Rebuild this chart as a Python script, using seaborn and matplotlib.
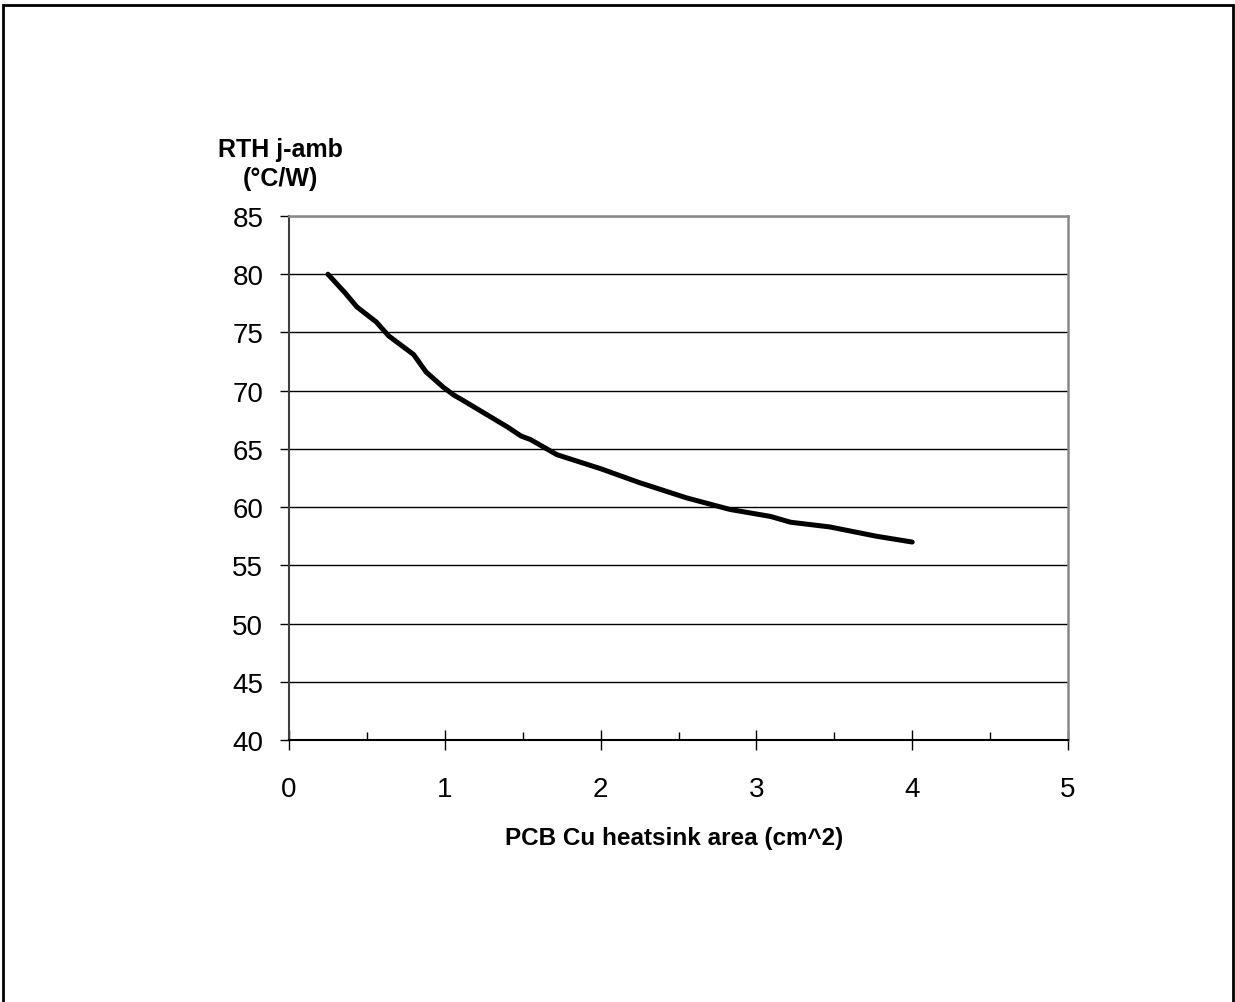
import pandas as pd
import matplotlib
matplotlib.use('Agg')
import matplotlib.pyplot as plt
import seaborn as sns
from matplotlib.patches import Rectangle
from matplotlib.ticker import MultipleLocator

# data
area_cm2 = [0.25, 0.36, 0.435, 0.56, 0.64, 0.80, 0.88, 0.99, 1.06, 1.10,
            1.25, 1.40, 1.49, 1.55, 1.72, 2.00, 2.25, 2.55, 2.83, 3.09,
            3.22, 3.47, 3.77, 4.00]
rth_jamb = [80.0, 78.4, 77.2, 75.9, 74.7, 73.1, 71.6, 70.3, 69.6, 69.3,
            68.1, 66.9, 66.1, 65.8, 64.5, 63.3, 62.1, 60.8, 59.8, 59.2,
            58.7, 58.3, 57.5, 57.0]

y_ticks = [40, 45, 50, 55, 60, 65, 70, 75, 80, 85]
x_ticks = [0, 1, 2, 3, 4, 5]

df = pd.DataFrame({'area': area_cm2, 'rth': rth_jamb})

sns.set_style('white')
plt.rcParams['font.family'] = ['Liberation Sans', 'DejaVu Sans']
plt.rcParams['text.color'] = 'black'
plt.rcParams['xtick.color'] = 'black'
plt.rcParams['ytick.color'] = 'black'

fig = plt.figure(figsize=(12.35, 10.03), dpi=100)
ax = fig.add_axes([289 / 1235, 262 / 1003, 779 / 1235, 524 / 1003])

sns.lineplot(data=df, x='area', y='rth', ax=ax, color='black', linewidth=3.6,
             solid_capstyle='round', sort=False)

ax.set_xlim(0, 5)
ax.set_ylim(40, 85)
ax.set_xticks(x_ticks)
ax.set_yticks(y_ticks)
ax.xaxis.set_minor_locator(MultipleLocator(0.5))
ax.set_xlabel('')
ax.set_ylabel('')

# horizontal gridlines only
ax.yaxis.grid(True, color='black', linewidth=1)
ax.xaxis.grid(False)
ax.set_axisbelow(True)

ax.tick_params(axis='y', which='major', direction='out', length=6.5, width=1,
               color='black', pad=12, labelsize=20, left=True)
ax.tick_params(axis='x', which='major', direction='inout', length=14.4, width=1,
               color='black', pad=18.8, labelsize=20, bottom=True)
ax.tick_params(axis='x', which='minor', direction='in', length=6, width=1,
               color='black', bottom=True)

for side in ['top', 'right']:
    ax.spines[side].set_color('#888888')
    ax.spines[side].set_linewidth(1.8)
ax.spines['left'].set_color('#404040')
ax.spines['left'].set_linewidth(1.5)
ax.spines['bottom'].set_color('black')
ax.spines['bottom'].set_linewidth(1.5)

# axis titles like the original Excel chart
fig.text(280 / 1235, 1 - 138 / 1003, 'RTH j-amb\n(°C/W)', ha='center', va='top',
         fontsize=18, fontweight='bold', linespacing=1.25)
fig.text(674 / 1235, 1 - 845 / 1003, 'PCB Cu heatsink area (cm^2)', ha='center',
         va='baseline', fontsize=17.5, fontweight='bold')

# outer frame of the figure box
fig.add_artist(Rectangle((3 / 1235, -0.1), 1230 / 1235, 1.094, fill=False,
                         edgecolor='black', linewidth=2,
                         transform=fig.transFigure, clip_on=False))

fig.savefig('out.png', dpi=100, facecolor='white')
